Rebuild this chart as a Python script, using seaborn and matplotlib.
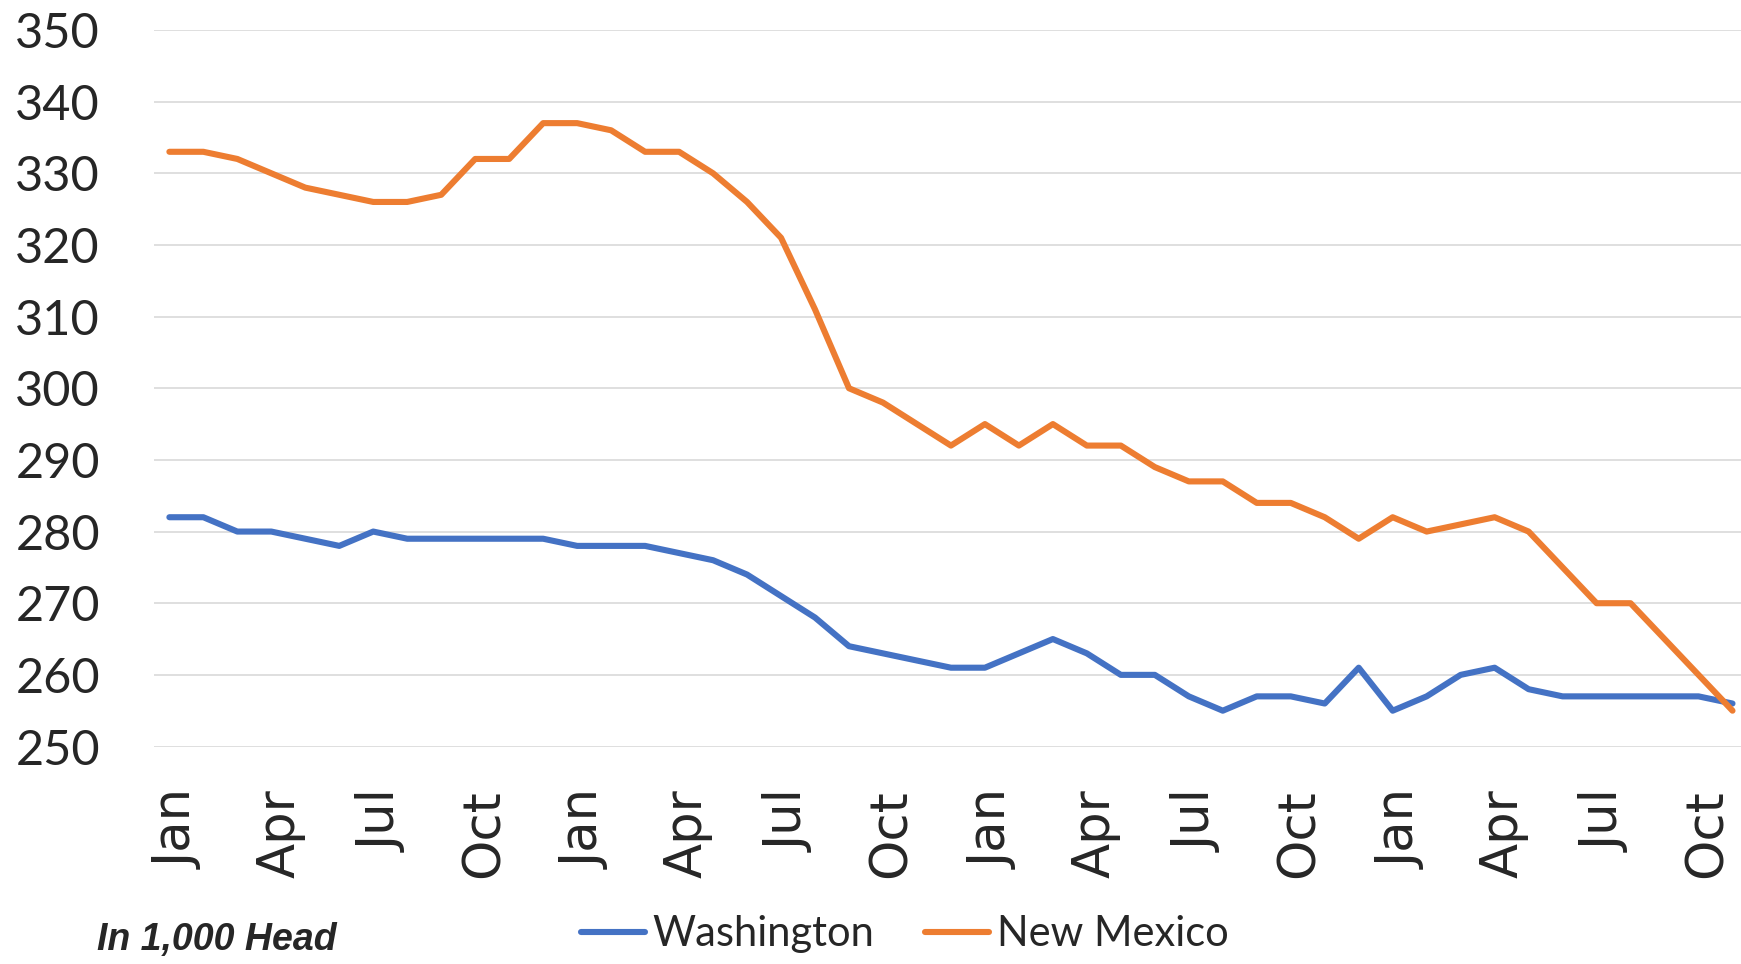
import matplotlib
matplotlib.use("Agg")
import matplotlib.pyplot as plt
import matplotlib.transforms as mtransforms
import seaborn as sns
import pandas as pd

# Du lieu doc tu bieu do (nghin con), 47 thang tu Jan den Nov cua nam thu 4
months = ["Jan", "Feb", "Mar", "Apr", "May", "Jun",
          "Jul", "Aug", "Sep", "Oct", "Nov", "Dec"] * 4
months = months[:47]

washington = [282, 282, 280, 280, 279, 278, 280, 279, 279, 279, 279, 279,
              278, 278, 278, 277, 276, 274, 271, 268, 264, 263, 262, 261,
              261, 263, 265, 263, 260, 260, 257, 255, 257, 257, 256, 261,
              255, 257, 260, 261, 258, 257, 257, 257, 257, 257, 256]

new_mexico = [333, 333, 332, 330, 328, 327, 326, 326, 327, 332, 332, 337,
              337, 336, 333, 333, 330, 326, 321, 311, 300, 298, 295, 292,
              295, 292, 295, 292, 292, 289, 287, 287, 284, 284, 282, 279,
              282, 280, 281, 282, 280, 275, 270, 270, 265, 260, 255]

series_names = ["Washington", "New Mexico"]
colors = ["#4472C4", "#ED7D31"]

# Tao bang dang long-form cho seaborn
idx = list(range(len(months)))
df = pd.DataFrame({
    "idx": idx * 2,
    "value": washington + new_mexico,
    "state": [series_names[0]] * len(idx) + [series_names[1]] * len(idx),
})

sns.set_theme(style="white")
plt.rcParams["font.family"] = ["Lato", "DejaVu Sans"]

fig = plt.figure(figsize=(17.41, 9.64), dpi=100)
ax = fig.add_axes([0.0885, 0.2256, 0.9115, 0.7433])

sns.lineplot(data=df, x="idx", y="value", hue="state", palette=colors,
             linewidth=4.4, ax=ax, legend=False, solid_capstyle="round")

ax.set_xlim(-0.45, 46.25)
ax.set_ylim(250, 350)
ax.set_yticks(range(250, 351, 10))
ax.grid(axis="y", color="#D9D9D9", linewidth=1.2)
ax.set_axisbelow(True)
for s in ax.spines.values():
    s.set_visible(False)

tick_pos = idx[::3]
ax.set_xticks(tick_pos)
ax.set_xticklabels([months[i] for i in tick_pos])
ax.tick_params(axis="x", length=0, pad=31)
ax.tick_params(axis="y", length=0, pad=39, labelsize=35)
ax.set_xlabel("")
ax.set_ylabel("")

# Nhan truc x xoay doc, font DejaVu, lech sang phai mot chut
shift = mtransforms.ScaledTranslation(0.09, 0, fig.dpi_scale_trans)
for lbl in ax.get_xticklabels():
    lbl.set_fontfamily("DejaVu Sans")
    lbl.set_fontsize(37)
    lbl.set_rotation(90)
    lbl.set_va("top")
    lbl.set_transform(lbl.get_transform() + shift)

# Chu thich phia duoi
handles = [plt.Line2D([], [], color=c, linewidth=4.4, solid_capstyle="round")
           for c in colors]
fig.legend(handles, series_names, loc="center",
           bbox_to_anchor=(0.5195, 0.031), ncol=2, frameon=False,
           fontsize=30, handlelength=1.54, handletextpad=0.19,
           columnspacing=1.2)

fig.text(0.056, 0.025, "In 1,000 Head", fontfamily="Liberation Sans",
         fontweight="bold", fontstyle="italic", fontsize=27, va="center")

fig.savefig("out.png", dpi=100)
